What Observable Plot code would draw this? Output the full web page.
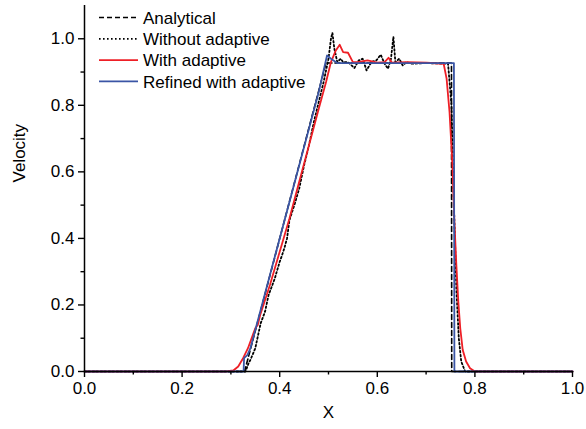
<!DOCTYPE html>
<html><head><meta charset="utf-8">
<script src="https://cdn.jsdelivr.net/npm/d3@7"></script>
<script src="https://cdn.jsdelivr.net/npm/@observablehq/plot@0.6"></script>
<style>
body{margin:0;background:#fff}
#wrap{position:relative;width:586px;height:429px}
#legend{position:absolute;left:0;top:0}
</style></head><body><div id="wrap"></div>
<script>
// Tick values
const xMajor = [0, 0.2, 0.4, 0.6, 0.8, 1.0];
const xMinor = [0.1, 0.3, 0.5, 0.7, 0.9];
const yMajor = [0, 0.2, 0.4, 0.6, 0.8, 1.0];
const yMinor = [0.1, 0.3, 0.5, 0.7, 0.9];

// Series names
const seriesNames = ["Analytical", "Without adaptive", "With adaptive", "Refined with adaptive"];

// Analytical
const analyticalX = [0, 0.328, 0.495, 0.752, 0.7525, 1.0];
const analyticalV = [0, 0, 0.927, 0.927, 0, 0];

// Without adaptive (dotted)
const withoutX = [0, 0.33, 0.336, 0.34, 0.35, 0.361, 0.37, 0.377, 0.385, 0.39, 0.40, 0.405, 0.41, 0.415, 0.42, 0.43, 0.44, 0.45, 0.46, 0.47, 0.48, 0.49, 0.50, 0.505, 0.508, 0.512, 0.518, 0.525, 0.53, 0.54, 0.553, 0.562, 0.57, 0.578, 0.588, 0.598, 0.607, 0.615, 0.622, 0.628, 0.633, 0.637, 0.645, 0.652, 0.66, 0.67, 0.70, 0.745, 0.752, 0.757, 0.762, 0.767, 0.772, 0.78, 1.0];
const withoutV = [0, 0, 0.024, 0.035, 0.07, 0.145, 0.18, 0.229, 0.26, 0.28, 0.33, 0.35, 0.373, 0.40, 0.455, 0.50, 0.55, 0.62, 0.68, 0.75, 0.81, 0.87, 0.94, 1.0, 1.018, 0.97, 0.93, 0.94, 0.93, 0.93, 0.912, 0.935, 0.94, 0.905, 0.93, 0.935, 0.952, 0.925, 0.91, 0.94, 1.006, 0.93, 0.94, 0.92, 0.93, 0.925, 0.927, 0.925, 0.8, 0.5, 0.25, 0.1, 0.03, 0, 0];

// With adaptive (red)
const withX = [0, 0.29, 0.305, 0.315, 0.325, 0.335, 0.345, 0.35, 0.355, 0.36, 0.38, 0.40, 0.42, 0.44, 0.46, 0.48, 0.495, 0.505, 0.515, 0.523, 0.53, 0.54, 0.55, 0.56, 0.58, 0.60, 0.615, 0.623, 0.63, 0.66, 0.70, 0.736, 0.742, 0.748, 0.754, 0.758, 0.762, 0.766, 0.770, 0.775, 0.782, 0.79, 0.80, 1.0];
const withV = [0, 0, 0.003, 0.015, 0.04, 0.07, 0.11, 0.13, 0.14, 0.17, 0.26, 0.36, 0.46, 0.57, 0.68, 0.79, 0.87, 0.93, 0.965, 0.982, 0.96, 0.958, 0.93, 0.93, 0.935, 0.928, 0.93, 0.943, 0.928, 0.93, 0.928, 0.925, 0.88, 0.78, 0.62, 0.45, 0.32, 0.21, 0.13, 0.065, 0.03, 0.01, 0, 0];

// Refined with adaptive (blue)
const refinedX = [0, 0.326, 0.327, 0.334, 0.34, 0.36, 0.40, 0.44, 0.48, 0.497, 0.505, 0.518, 0.757, 0.758, 1.0];
const refinedV = [0, 0, 0.04, 0.05, 0.07, 0.18, 0.40, 0.62, 0.84, 0.95, 0.94, 0.927, 0.927, 0, 0];

const seriesX = [analyticalX, withoutX, withX, refinedX];
const seriesV = [analyticalV, withoutV, withV, refinedV];
const seriesStroke = ["#000000", "#000000", "#ee1f26", "#3a55a5"];
const seriesDash = ["5,3", "1.6,2.4", null, null];
const seriesWidth = [1.6, 1.8, 1.8, 1.8];

const rows = s => seriesX[s].map((x, i) => ({x, v: seriesV[s][i]}));
const fmt = d3.format(".1f");

const lineMarks = seriesNames.map((n, s) => Plot.line(rows(s), {
  x: "x", y: "v", stroke: seriesStroke[s], strokeWidth: seriesWidth[s],
  strokeDasharray: seriesDash[s] ?? undefined
}));

const chart = Plot.plot({
  width: 586, height: 429,
  marginLeft: 84, marginRight: 14, marginTop: 5, marginBottom: 58,
  style: {fontFamily: "'Liberation Sans', Arial, sans-serif", fontSize: "17px", background: "white", color: "black"},
  x: {domain: [0, 1]},
  y: {domain: [0, 1.1]},
  marks: [
    ...lineMarks,
    Plot.ruleX([0], {stroke: "black", strokeWidth: 1.5}),
    Plot.ruleY([0], {stroke: "black", strokeWidth: 1.5}),
    Plot.axisX({ticks: xMajor, tickSize: 6, tickPadding: 4, tickFormat: fmt, label: null, strokeWidth: 1.4, fontSize: 17}),
    Plot.axisX({ticks: xMinor, tickSize: 3.5, tickFormat: () => "", label: null, strokeWidth: 1.4}),
    Plot.axisY({ticks: yMajor, tickSize: 6, tickPadding: 4, tickFormat: fmt, label: null, strokeWidth: 1.4, fontSize: 17}),
    Plot.axisY({ticks: yMinor, tickSize: 3.5, tickFormat: () => "", label: null, strokeWidth: 1.4}),
    Plot.text(["X"], {frameAnchor: "bottom", dy: 46, fontSize: 17, fill: "black"}),
    Plot.text(["Velocity"], {frameAnchor: "left", dx: -65, dy: -6, rotate: -90, fontSize: 17, fill: "black"})
  ]
});

const wrap = document.getElementById("wrap");
wrap.appendChild(chart);

// Legend overlay
const lg = d3.select(wrap).append("svg").attr("id", "legend").attr("width", 330).attr("height", 100)
  .style("font-family", "'Liberation Sans', Arial, sans-serif").style("font-size", "17px");
seriesNames.forEach((n, s) => {
  const cy = 17.5 + s * 21.3;
  lg.append("line").attr("x1", 99).attr("x2", 138).attr("y1", cy).attr("y2", cy)
    .attr("stroke", seriesStroke[s]).attr("stroke-width", seriesWidth[s])
    .attr("stroke-dasharray", seriesDash[s]);
  lg.append("text").attr("x", 143).attr("y", cy).attr("dy", "0.36em").attr("fill", "black").text(n);
});
</script></body></html>
